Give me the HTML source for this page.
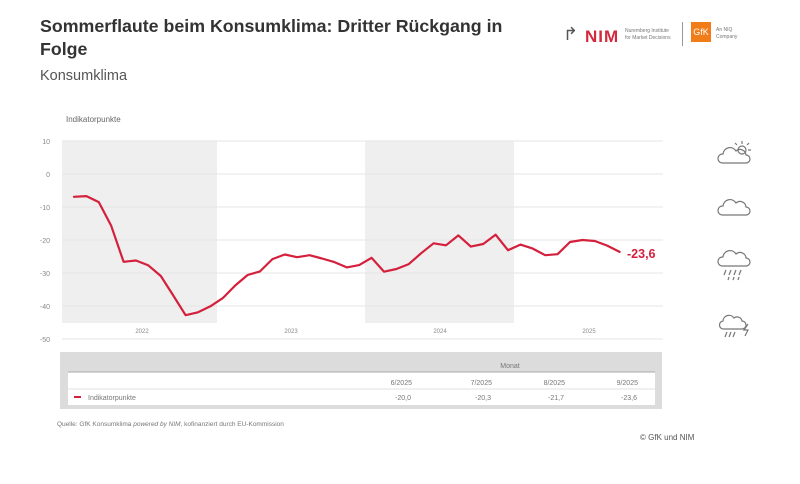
<!DOCTYPE html>
<html><head><meta charset="utf-8"><style>
body{margin:0;width:800px;height:484px;background:#fff;font-family:"Liberation Sans",sans-serif;overflow:hidden;position:relative}
.t{position:absolute;white-space:nowrap}
</style></head><body>
<div class="t" style="left:40px;top:15px;font-size:17.8px;font-weight:bold;color:#333;line-height:23px">Sommerflaute beim Konsumklima: Dritter Rückgang in<br>Folge</div>
<div class="t" style="left:40px;top:68px;font-size:14.5px;color:#555">Konsumklima</div>
<div class="t" style="left:563px;top:24px;font-size:18px;color:#555">↱</div>
<div class="t" style="left:585px;top:27px;font-size:17px;color:#d4283c;font-weight:bold;letter-spacing:1px">NIM</div>
<div class="t" style="left:625px;top:28px;font-size:5px;color:#777;line-height:7px">Nuremberg Institute<br>for Market Decisions</div>
<div style="position:absolute;left:682px;top:22px;width:1px;height:24px;background:#999"></div>
<div class="t" style="left:691px;top:22px;width:20px;height:20px;background:#f07d1a;color:#fff;font-size:9px;text-align:center;line-height:20px">GfK</div>
<div class="t" style="left:716px;top:27px;font-size:5px;color:#777;line-height:7px">An NIQ<br>Company</div>
<svg style="position:absolute;left:0;top:0" width="800" height="484">
<text x="66" y="122" font-size="8" fill="#666" font-family="Liberation Sans">Indikatorpunkte</text>
<rect x="62" y="141" width="155" height="182" fill="#efefef"/>
<rect x="365" y="141" width="149" height="182" fill="#efefef"/>
<g stroke="#e4e4e4" stroke-width="1">
<line x1="62" y1="141" x2="663" y2="141"/><line x1="62" y1="174" x2="663" y2="174"/><line x1="62" y1="207" x2="663" y2="207"/><line x1="62" y1="240" x2="663" y2="240"/><line x1="62" y1="273" x2="663" y2="273"/><line x1="62" y1="306" x2="663" y2="306"/><line x1="62" y1="339" x2="663" y2="339"/></g>
<g font-size="7" fill="#888" text-anchor="end" font-family="Liberation Sans">
<text x="50" y="144">10</text><text x="50" y="177">0</text><text x="50" y="210">-10</text><text x="50" y="243">-20</text><text x="50" y="276">-30</text><text x="50" y="309">-40</text><text x="50" y="342">-50</text></g>
<g font-size="6" fill="#888" text-anchor="middle" font-family="Liberation Sans">
<text x="142" y="333">2022</text><text x="291" y="333">2023</text><text x="440" y="333">2024</text><text x="589" y="333">2025</text></g>
<polyline fill="none" stroke="#d4203c" stroke-width="2.2" stroke-linejoin="round" stroke-linecap="round" points="74,196.8 86.4,196.1 98.8,202.1 111.2,225.8 123.6,261.8 136,260.5 148.4,265.4 160.8,276 173.2,295.4 185.6,315.2 198,312.3 210.4,306.3 222.8,298.1 235.2,285.5 247.6,275 260,271.4 272.4,259.1 284.8,254.5 297.2,257.2 309.6,255.2 322,258.5 334.4,262.1 346.8,267.4 359.2,265.1 371.6,257.8 384,271.7 396.4,269 408.8,264.1 421.2,253.2 433.6,243.3 446,245.3 458.4,235.4 470.8,246.6 483.2,244 495.6,234.7 508,250.2 520.4,244.6 532.8,248.6 545.2,255.2 557.6,254.2 570,242 582.4,240 594.8,241 607.2,245.6 619.6,251.9"/>
<text x="627" y="258" font-size="12.5" font-weight="bold" fill="#d4203c" font-family="Liberation Sans">-23,6</text>
<g fill="none" stroke="#777" stroke-width="1.2">
<path d="M722 163 h24 a4 4 0 0 0 0-8 a6 6 0 0 0-10-4 a7 7 0 0 0-13 3 a4.5 4.5 0 0 0-1 9z"/>
<circle cx="742" cy="150" r="4"/>
<path d="M742 141v3M749 143l-2 2M751 150h-3M735 143l2 2"/>
<path d="M722 215 h24 a4 4 0 0 0 0-8 a6 6 0 0 0-10-4 a7 7 0 0 0-13 3 a4.5 4.5 0 0 0-1 9z"/>
<path d="M722 266 h24 a4 4 0 0 0 0-8 a6 6 0 0 0-10-4 a7 7 0 0 0-13 3 a4.5 4.5 0 0 0-1 9z"/>
<path d="M726 270l-2 5M731 270l-2 5M736 270l-2 5M741 270l-2 5M729 277l-1 3M734 277l-1 3M739 277l-1 3"/>
<path d="M724 329 h18 a4 4 0 0 0 0-8 a5 5 0 0 0-8-3 a6 6 0 0 0-11 3 a4 4 0 0 0 1 8z"/>
<path d="M727 332l-2 5M731 332l-2 5M735 332l-2 5"/>
<path d="M748 324l-4 6h4l-3 6"/>
</g>
<rect x="60" y="352" width="602" height="57" fill="#dcdcdc"/>
<rect x="68" y="372" width="587" height="33" fill="#fff"/>
<line x1="68" y1="372" x2="655" y2="372" stroke="#aaa" stroke-width="1"/>
<line x1="68" y1="389" x2="655" y2="389" stroke="#e0e0e0"/>
<g font-size="7" fill="#777" font-family="Liberation Sans">
<text x="510" y="368" text-anchor="middle">Monat</text>
<text x="412" y="385" text-anchor="end">6/2025</text><text x="492" y="385" text-anchor="end">7/2025</text><text x="565" y="385" text-anchor="end">8/2025</text><text x="638" y="385" text-anchor="end">9/2025</text>
<text x="88" y="400">Indikatorpunkte</text>
<text x="411" y="400" text-anchor="end">-20,0</text><text x="491" y="400" text-anchor="end">-20,3</text><text x="564" y="400" text-anchor="end">-21,7</text><text x="637" y="400" text-anchor="end">-23,6</text>
<text x="57" y="426" font-size="6.5">Quelle: GfK Konsumklima <tspan font-style="italic">powered by NIM</tspan>, kofinanziert durch EU-Kommission</text>
<text x="640" y="440" font-size="8" fill="#555">© GfK und NIM</text>
</g>
<rect x="74" y="396" width="7" height="2" fill="#d4203c"/>
</svg>
</body></html>
